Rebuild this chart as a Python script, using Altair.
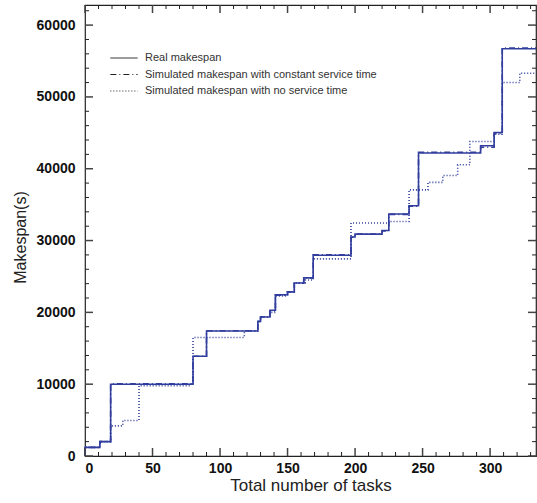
import altair as alt
import pandas as pd

# ---- data (step functions, value holds from task onward) ----
series_names = [
    "Real makespan",
    "Simulated makespan with constant service time",
    "Simulated makespan with no service time",
]

tasks_real = [0, 0, 11, 19, 80, 90, 128, 130, 137, 141, 150, 155, 162, 169, 197, 200, 220, 225, 240, 247, 293, 303, 309, 334]
makespan_real = [0, 1200, 2000, 10000, 13900, 17400, 18750, 19350, 20300, 22450, 22850, 24100, 24800, 27950,
                 30500, 30900, 31400, 33700, 34850, 42200, 43200, 45050, 56700, 56700]

tasks_const = [0, 0, 11, 19, 80, 90, 128, 130, 137, 141, 150, 155, 162, 169, 197, 200, 220, 225, 240, 247, 293, 303, 309, 334]
makespan_const = [0, 1200, 2000, 10050, 13900, 17450, 18750, 19350, 20200, 22400, 22850, 24050, 24800, 28000,
                  30450, 30900, 31350, 33650, 34800, 42300, 43000, 44900, 56800, 56800]

tasks_nost = [0, 0, 11, 19, 28, 40, 78, 80, 118, 128, 130, 137, 141, 150, 155, 163, 169, 197, 225, 240,
              254, 265, 276, 285, 303, 309, 322, 334]
makespan_nost = [0, 1200, 2000, 4200, 4950, 9800, 10000, 16500, 17400, 18750, 19350, 20000, 22300, 22850,
                 24100, 24500, 27450, 32450, 32650, 37050, 38100, 39050, 40550, 43800, 44800, 52000, 53300, 53300]

y_major = [0, 10000, 20000, 30000, 40000, 50000, 60000]
y_minor = [v for v in range(0, 62001, 2000) if v % 10000 != 0]
x_major = [0, 50, 100, 150, 200, 250, 300]
x_minor = [v for v in range(0, 331, 10) if v % 50 != 0]

X_MAX = 334
Y_MAX = 62800
W, H = 451, 451
LINE_COLOR = "#313e9d"
FONT = "Liberation Sans"

rows = []
for name, xs, ys in [(series_names[0], tasks_real, makespan_real),
                     (series_names[1], tasks_const, makespan_const),
                     (series_names[2], tasks_nost, makespan_nost)]:
    for i, (xv, yv) in enumerate(zip(xs, ys)):
        rows.append({"series": name, "task": xv, "makespan": yv, "idx": i})
df = pd.DataFrame(rows)

xscale = alt.Scale(domain=[0, X_MAX], nice=False, zero=False)
yscale = alt.Scale(domain=[0, Y_MAX], nice=False, zero=False)

x_axis = alt.Axis(values=x_major, ticks=False, domain=False, grid=False, labelPadding=5, format="d",
                  title="Total number of tasks", titlePadding=2, titleFontSize=17)
y_axis = alt.Axis(values=y_major, ticks=False, domain=False, grid=False, labelPadding=10, format="d",
                  title="Makespan(s)", titlePadding=8, titleY=232)

lines = alt.Chart(df).mark_line(interpolate="step-after", color=LINE_COLOR, strokeWidth=1.6).encode(
    x=alt.X("task:Q", scale=xscale, axis=x_axis),
    y=alt.Y("makespan:Q", scale=yscale, axis=y_axis),
    order=alt.Order("idx:Q"),
    strokeDash=alt.StrokeDash(
        "series:N",
        scale=alt.Scale(domain=series_names, range=[[1, 0], [6, 3, 1, 3], [1, 2]]),
        legend=alt.Legend(
            title=None, orient="none", legendX=28, legendY=42, padding=0,
            symbolType="M-1.3,0H1.3", symbolSize=441, symbolStrokeWidth=1,
            symbolStrokeColor="#222", labelFont=FONT, labelFontSize=11, labelColor="#333",
            labelOffset=10, rowPadding=0.5, labelLimit=0,
        ),
    ),
)

def yticks(vals, x0, x1, color, width):
    return alt.Chart(pd.DataFrame({"makespan": vals})).mark_rule(color=color, strokeWidth=width).encode(
        y=alt.Y("makespan:Q", scale=yscale), x=alt.value(x0), x2=alt.value(x1))

def xticks(vals, y0, y1, color, width):
    return alt.Chart(pd.DataFrame({"task": vals})).mark_rule(color=color, strokeWidth=width).encode(
        x=alt.X("task:Q", scale=xscale), y=alt.value(y0), y2=alt.value(y1))

MAJ_C, MAJ_W = "#444", 1.5
MIN_C, MIN_W = "#222", 1.0

tick_layers = [
    yticks(y_major, 0, 8, MAJ_C, MAJ_W), yticks(y_minor, 0, 4, MIN_C, MIN_W),
    yticks(y_major, W, W - 8, MAJ_C, MAJ_W), yticks(y_minor, W, W - 4, MIN_C, MIN_W),
    xticks(x_major, H, H - 8, MAJ_C, MAJ_W), xticks(x_minor, H, H - 4, MIN_C, MIN_W),
    xticks(x_major, 0, 8, MAJ_C, MAJ_W), xticks(x_minor, 0, 4, MIN_C, MIN_W),
]

chart = alt.layer(lines, *tick_layers).properties(
    width=W, height=H,
    autosize=alt.AutoSizeParams(type="none"),
    padding={"left": 85, "top": 5, "right": 1, "bottom": 47},
    background="white",
).configure_view(
    stroke="#222", strokeWidth=1.2
).configure_axis(
    labelFont=FONT, labelFontSize=14, labelFontWeight="bold", labelColor="#111",
    titleFont=FONT, titleFontSize=16, titleFontWeight="normal", titleColor="#222",
)

chart.save("out.html", embed_options={"renderer": "svg", "actions": False})
